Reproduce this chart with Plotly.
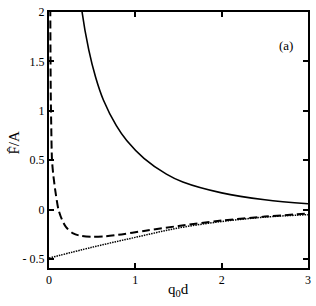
import plotly.graph_objects as go

# Solid curve
solid_x = [0.37, 0.383, 0.46, 0.54, 0.63, 0.78, 0.9, 1.1, 1.36, 1.55, 2.0, 2.5, 3.0]
solid_y = [2.12, 2.0, 1.62, 1.34, 1.11, 0.85, 0.70, 0.52, 0.36, 0.28, 0.17, 0.10, 0.06]

# Dashed curve
dash_x = [0.012, 0.015, 0.02, 0.025, 0.035, 0.05, 0.075, 0.11, 0.15, 0.2, 0.28, 0.37, 0.5, 0.65, 0.8, 1.1, 1.5, 2.0, 2.5, 3.0]
dash_y = [2.4, 2.0, 1.2, 0.9, 0.5, 0.35, 0.18, 0.0, -0.1, -0.18, -0.24, -0.265, -0.275, -0.27, -0.255, -0.215, -0.165, -0.11, -0.07, -0.04]

# Dotted curve
dot_x = [0.0, 0.5, 1.0, 1.5, 2.0, 2.5, 3.0]
dot_y = [-0.49, -0.38, -0.28, -0.185, -0.12, -0.075, -0.05]

x_ticks = [0, 1, 2, 3]
x_ticktext = ["0", "1", "2", "3"]
y_ticks = [-0.5, 0, 0.5, 1, 1.5, 2]
y_ticktext = ["- 0.5", "0", "0.5", "1", "1.5", "2"]

FAM = "Liberation Serif"

fig = go.Figure()
fig.add_trace(go.Scatter(x=solid_x, y=solid_y, mode="lines",
                         line=dict(color="black", width=1.6, shape="spline"), showlegend=False))
fig.add_trace(go.Scatter(x=dash_x, y=dash_y, mode="lines",
                         line=dict(color="black", width=2, dash="8px,4px", shape="spline", smoothing=0.8),
                         showlegend=False))
fig.add_trace(go.Scatter(x=dot_x, y=dot_y, mode="lines",
                         line=dict(color="black", width=1.5, dash="1.5px,1px", shape="spline"), showlegend=False))

font = dict(family=FAM, size=12, color="black")

axis_common = dict(showgrid=False, zeroline=False, showline=True, linecolor="black", linewidth=2,
                   mirror="ticks", ticks="inside", ticklen=5, tickwidth=1.5, tickcolor="black",
                   tickfont=font, ticklabeloverflow="allow")

fig.update_xaxes(range=[0, 3], tickvals=x_ticks, ticktext=x_ticktext, **axis_common)
fig.update_yaxes(range=[-0.59, 2], tickvals=y_ticks, ticktext=y_ticktext, **axis_common)

fig.add_annotation(x=2.74, y=1.66, text="(a)", showarrow=False,
                   font=dict(family=FAM, size=13, color="black"))
fig.add_annotation(xref="paper", yref="paper", x=0.5, y=-0.085, xanchor="center", yanchor="middle",
                   text="q<sub>0</sub>d", showarrow=False, font=dict(family=FAM, size=15, color="black"))
fig.add_annotation(xref="paper", yref="paper", x=-0.135, y=0.49, xanchor="center", yanchor="middle",
                   text="F\u0302/A", textangle=-90, showarrow=False,
                   font=dict(family=FAM, size=15, color="black"))

fig.update_layout(width=316, height=306, margin=dict(l=49, r=5, t=5, b=38),
                  paper_bgcolor="white", plot_bgcolor="white", font=font)

fig.write_html("out.html", config={"displayModeBar": False},
               post_script="document.body.style.margin='0';document.body.style.overflow='hidden';")
